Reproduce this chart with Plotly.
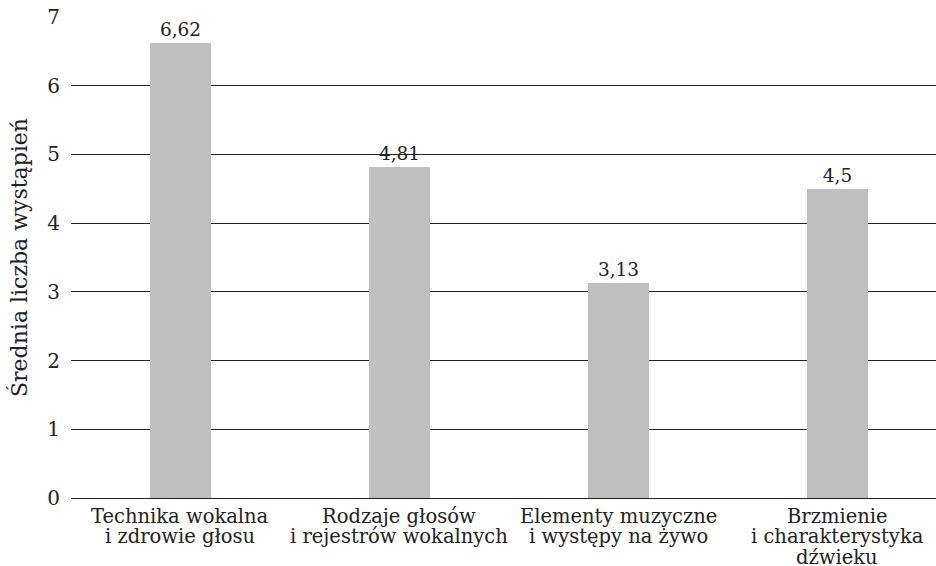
import plotly.graph_objects as go

categories = [
    "Technika wokalna<br>i zdrowie głosu",
    "Rodzaje głosów<br>i rejestrów wokalnych",
    "Elementy muzyczne<br>i występy na żywo",
    "Brzmienie<br>i charakterystyka<br>dźwieku",
]
values = [6.62, 4.81, 3.13, 4.5]
y_title = "Średnia liczba wystąpień"

FONT = "DejaVu Serif"
COLOR = "#222"
LINE_STEP = 20.5

xpos = list(range(len(categories)))

fig = go.Figure(
    go.Bar(
        x=xpos,
        y=values,
        width=0.275,
        marker=dict(color="#BFBFBF", line=dict(width=0)),
        text=values,
        texttemplate="%{y}",
        textposition="outside",
        textfont=dict(family=FONT, size=18.5, color=COLOR),
        cliponaxis=False,
    )
)

# category labels, one annotation per line for tight line spacing
for i, cat in enumerate(categories):
    for k, line in enumerate(cat.split("<br>")):
        fig.add_annotation(
            x=xpos[i], xref="x",
            y=0, yref="y",
            text=line,
            showarrow=False,
            xanchor="center", yanchor="middle",
            yshift=-(18 + k * LINE_STEP),
            font=dict(family=FONT, size=19.5, color=COLOR),
        )

fig.update_layout(
    width=936,
    height=566,
    margin=dict(l=71, r=0, t=17, b=68),
    plot_bgcolor="white",
    paper_bgcolor="white",
    separators=", ",
    font=dict(family=FONT, size=19, color=COLOR),
    showlegend=False,
    bargap=0,
)
fig.update_xaxes(
    tickmode="array",
    tickvals=xpos,
    ticktext=[""] * len(xpos),
    range=[-0.5, 3.45],
    showgrid=False,
    showline=True,
    linecolor=COLOR,
    linewidth=1.3,
    ticks="",
    automargin=False,
)
fig.update_yaxes(
    range=[0, 7],
    dtick=1,
    showgrid=True,
    gridcolor=COLOR,
    gridwidth=1.3,
    zeroline=False,
    showline=False,
    ticks="",
    ticklabelstandoff=10,
    automargin=False,
    tickfont=dict(family=FONT, size=20, color=COLOR),
    title=dict(text=y_title, font=dict(family=FONT, size=22, color=COLOR), standoff=13),
)

fig.write_html(
    "out.html",
    config={"displayModeBar": False},
    post_script="document.body.style.margin='0';document.body.style.overflow='hidden';",
)
